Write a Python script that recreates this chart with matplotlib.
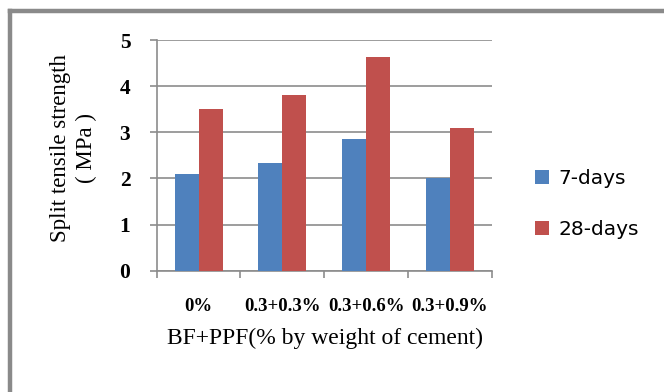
import matplotlib

matplotlib.use("Agg")
import matplotlib.pyplot as plt
from matplotlib.lines import Line2D
from matplotlib.patches import Patch
import numpy as np

categories = ["0%", "0.3+0.3%", "0.3+0.6%", "0.3+0.9%"]
days7 = [2.1, 2.33, 2.85, 2.0]
days28 = [3.5, 3.8, 4.63, 3.1]
series_names = ["7-days", "28-days"]
y_ticks = [0, 1, 2, 3, 4, 5]

W, H, DPI = 664, 392, 100
BLUE = "#4F81BD"
RED = "#C0504D"
GRID = "#8c8c8c"
SERIF = "Liberation Serif"

fig = plt.figure(figsize=(W / DPI, H / DPI), dpi=DPI)
ax = fig.add_axes([156.7 / W, 1 - 270.7 / H, 335 / W, 230.7 / H])

x = np.arange(len(categories))
bw = 1 / 3.5
ax.bar(x - bw / 2, days7, width=bw, color=BLUE, zorder=3)
ax.bar(x + bw / 2, days28, width=bw, color=RED, zorder=3)

ax.set_xlim(-0.5, len(categories) - 0.5)
ax.set_ylim(0, 5)
ax.set_yticks(y_ticks)
ax.set_yticklabels([str(t) for t in y_ticks], fontfamily=SERIF, fontweight="bold", fontsize=15.5)
ax.set_xticks(x)
ax.set_xticklabels(categories, fontfamily=SERIF, fontweight="bold", fontsize=13.5)
ax.set_xticks(np.arange(len(categories) + 1) - 0.5, minor=True)
ax.tick_params(axis="x", which="major", length=0, pad=20)
ax.tick_params(axis="x", which="minor", length=5, color=GRID, width=1.2)
ax.tick_params(axis="y", length=5, color=GRID, width=1.2, pad=14)

ax.grid(axis="y", color=GRID, linewidth=1.2, zorder=0)
for side in ("top", "right"):
    ax.spines[side].set_visible(False)
for side in ("left", "bottom"):
    ax.spines[side].set_color(GRID)
    ax.spines[side].set_linewidth(1.2)

fig.text(325 / W, 1 - 338 / H, "BF+PPF(% by weight of cement)",
         fontfamily=SERIF, fontsize=17, ha="center", va="center")
fig.text(74 / W, 1 - 148 / H, "Split tensile strength\n( MPa )",
         fontfamily=SERIF, fontsize=16.5, rotation=90, ha="center", va="center",
         multialignment="center", linespacing=1.3)

handles = [Patch(facecolor=BLUE, edgecolor="none"), Patch(facecolor=RED, edgecolor="none")]
fig.legend(handles, series_names, loc="center left", bbox_to_anchor=(535 / W, 1 - 204 / H),
           frameon=False, handlelength=0.7, handleheight=0.7,
           handletextpad=0.45, labelspacing=1.6, borderpad=0, borderaxespad=0,
           prop={"family": "DejaVu Sans", "size": 14.5})

# outer chart-area frame, cropped on the right and bottom
fig.add_artist(Line2D([10 / W, 1.0], [1 - 11 / H, 1 - 11 / H], color="#8a8a8a", linewidth=3.2,
                      transform=fig.transFigure))
fig.add_artist(Line2D([10 / W, 10 / W], [0.0, 1 - 11 / H], color="#8a8a8a", linewidth=3.2,
                      transform=fig.transFigure))

fig.savefig("out.png", dpi=DPI)
plt.close(fig)
